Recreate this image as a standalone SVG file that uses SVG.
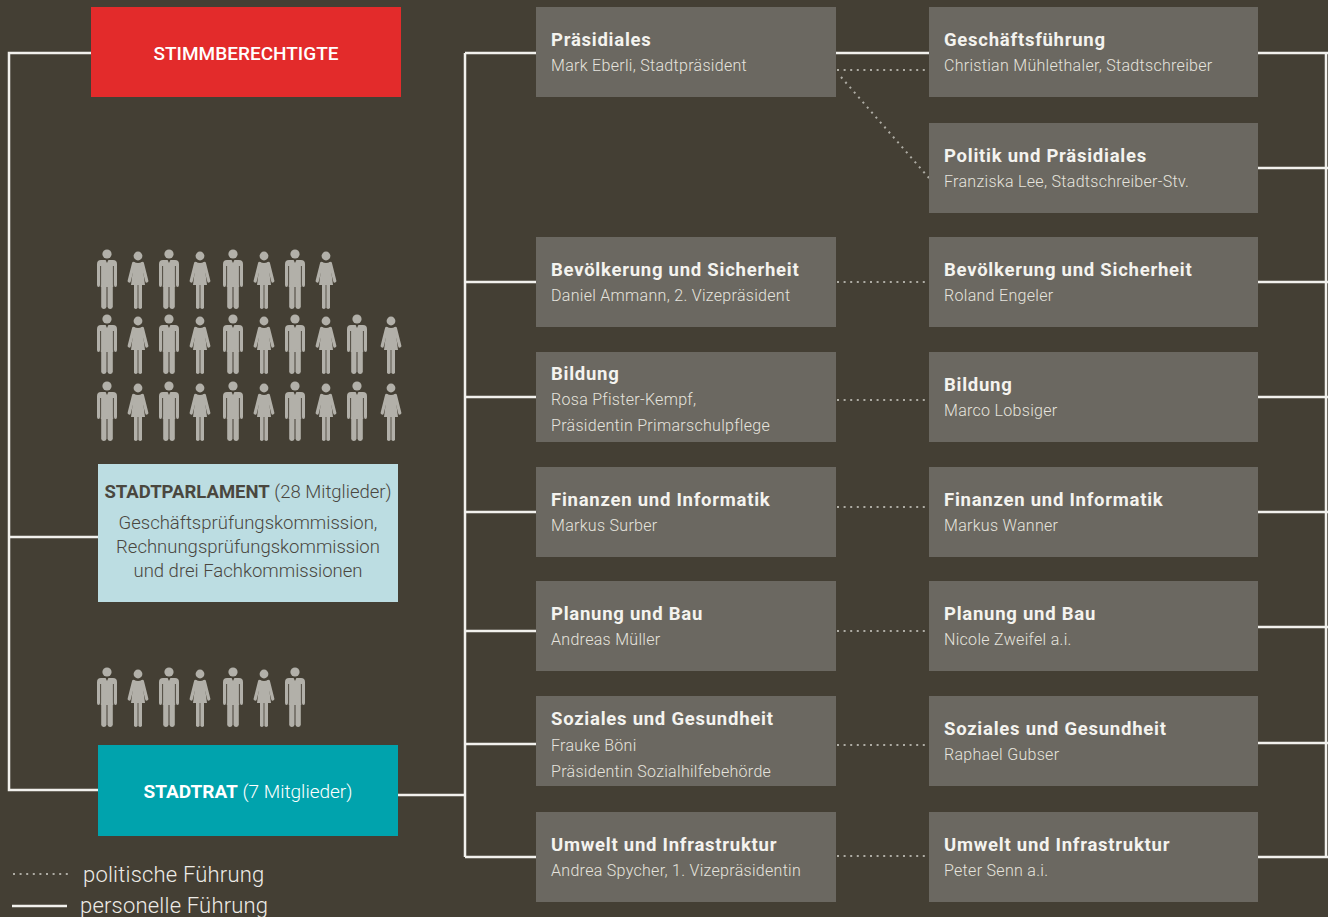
<svg xmlns="http://www.w3.org/2000/svg" width="1328" height="917" viewBox="0 0 1328 917">
<style>
.bg{fill:#443f34}
.box{fill:#6b6861}
.t{font-family:Roboto,"Liberation Sans",sans-serif;font-weight:700;font-size:18.5px;fill:#f4f3ef;letter-spacing:0.75px}
.s{font-family:Roboto,"Liberation Sans",sans-serif;font-weight:300;font-size:16px;fill:#e6e4de;letter-spacing:0.3px}
.solid{stroke:#f2f1ed;stroke-width:2.5;fill:none}
.dot{stroke:#aeaca4;stroke-width:2;fill:none;stroke-dasharray:2 4.6}
.ic{fill:#b2b0a9}
.leg{font-family:Roboto,"Liberation Sans",sans-serif;font-weight:300;font-size:22px;fill:#eeece7;letter-spacing:0.2px}
</style>
<defs>
<symbol id="man" viewBox="0 0 24 60" width="24" height="60">
<circle class="ic" cx="12" cy="5" r="4.6"/>
<path class="ic" d="M2,36 L2,15 Q2,11 6,11 L18,11 Q22,11 22,15 L22,36 Q22,38 20.5,38 Q19,38 19,36 L19,38 L5,38 L5,36 Q5,38 3.5,38 Q2,38 2,36 Z"/>
<line x1="5.6" y1="17" x2="5.6" y2="38" stroke="#443f34" stroke-width="0.9"/>
<line x1="18.4" y1="17" x2="18.4" y2="38" stroke="#443f34" stroke-width="0.9"/>
<path d="M10.6,11 L13.4,11 L12,14 Z" fill="#443f34"/>
<rect class="ic" x="6.2" y="35" width="5.3" height="25" rx="2.4"/>
<rect class="ic" x="12.5" y="35" width="5.3" height="25" rx="2.4"/>
</symbol>
<symbol id="woman" viewBox="0 0 24 60" width="24" height="60">
<circle class="ic" cx="12" cy="7" r="4.4"/>
<path class="ic" d="M8,13 Q12,15 16,13 L19,36 L5,36 Z"/>
<line x1="7.6" y1="14.5" x2="3.2" y2="32" stroke="#b2b0a9" stroke-width="3.2" stroke-linecap="round"/>
<line x1="16.4" y1="14.5" x2="20.8" y2="32" stroke="#b2b0a9" stroke-width="3.2" stroke-linecap="round"/>
<rect class="ic" x="8" y="34" width="3.6" height="26" rx="1.8"/>
<rect class="ic" x="12.4" y="34" width="3.6" height="26" rx="1.8"/>
</symbol>
</defs>
<rect class="bg" x="0" y="0" width="1328" height="917"/>

<g id="connectors">
<polyline class="solid" points="91,53 9,53 9,790 98,790"/>
<line class="solid" x1="9" y1="537" x2="98" y2="537"/>
<line class="solid" x1="398" y1="795" x2="465" y2="795"/>
<line class="solid" x1="465" y1="53" x2="465" y2="857"/>
<line class="solid" x1="465" y1="53" x2="536" y2="53"/>
<line class="solid" x1="465" y1="282" x2="536" y2="282"/>
<line class="solid" x1="465" y1="397" x2="536" y2="397"/>
<line class="solid" x1="465" y1="512" x2="536" y2="512"/>
<line class="solid" x1="465" y1="631" x2="536" y2="631"/>
<line class="solid" x1="465" y1="744" x2="536" y2="744"/>
<line class="solid" x1="465" y1="857" x2="536" y2="857"/>
<line class="solid" x1="836" y1="53" x2="929" y2="53"/>
<line class="solid" x1="1326" y1="53" x2="1326" y2="857"/>
<line class="solid" x1="1258" y1="53" x2="1328" y2="53"/>
<line class="solid" x1="1258" y1="168" x2="1328" y2="168"/>
<line class="solid" x1="1258" y1="282" x2="1328" y2="282"/>
<line class="solid" x1="1258" y1="397" x2="1328" y2="397"/>
<line class="solid" x1="1258" y1="512" x2="1328" y2="512"/>
<line class="solid" x1="1258" y1="627" x2="1328" y2="627"/>
<line class="solid" x1="1258" y1="743" x2="1328" y2="743"/>
<line class="solid" x1="1258" y1="857" x2="1328" y2="857"/>
<line class="dot" x1="837" y1="70" x2="929" y2="70"/>
<line class="dot" x1="841" y1="77" x2="929" y2="178"/>
<line class="dot" x1="837" y1="282" x2="929" y2="282"/>
<line class="dot" x1="837" y1="400" x2="929" y2="400"/>
<line class="dot" x1="837" y1="507" x2="929" y2="507"/>
<line class="dot" x1="837" y1="631" x2="929" y2="631"/>
<line class="dot" x1="837" y1="745" x2="929" y2="745"/>
<line class="dot" x1="837" y1="856" x2="929" y2="856"/>
</g>

<g id="stimmberechtigte">
<rect x="91" y="7" width="310" height="90" fill="#e32b2b"/>
<text x="246" y="60" text-anchor="middle" font-family="Roboto,'Liberation Sans',sans-serif" font-weight="500" font-size="19" fill="#ffffff">STIMMBERECHTIGTE</text>
</g>

<g id="parlament-icons">
<use href="#man" x="95" y="249"/><use href="#woman" x="126" y="249"/><use href="#man" x="157" y="249"/><use href="#woman" x="188" y="249"/><use href="#man" x="221" y="249"/><use href="#woman" x="252" y="249"/><use href="#man" x="283" y="249"/><use href="#woman" x="314" y="249"/>
<use href="#man" x="95" y="314"/><use href="#woman" x="126" y="314"/><use href="#man" x="157" y="314"/><use href="#woman" x="188" y="314"/><use href="#man" x="221" y="314"/><use href="#woman" x="252" y="314"/><use href="#man" x="283" y="314"/><use href="#woman" x="314" y="314"/><use href="#man" x="345" y="314"/><use href="#woman" x="379" y="314"/>
<use href="#man" x="95" y="381"/><use href="#woman" x="126" y="381"/><use href="#man" x="157" y="381"/><use href="#woman" x="188" y="381"/><use href="#man" x="221" y="381"/><use href="#woman" x="252" y="381"/><use href="#man" x="283" y="381"/><use href="#woman" x="314" y="381"/><use href="#man" x="345" y="381"/><use href="#woman" x="379" y="381"/>
</g>

<g id="stadtparlament">
<rect x="98" y="464" width="300" height="138" fill="#bcdde2"/>
<text x="248" y="498" text-anchor="middle" font-family="Roboto,'Liberation Sans',sans-serif" font-size="18.5" fill="#4a473f"><tspan font-weight="700">STADTPARLAMENT</tspan><tspan font-weight="300"> (28 Mitglieder)</tspan></text>
<text text-anchor="middle" font-family="Roboto,'Liberation Sans',sans-serif" font-weight="300" font-size="18.5" fill="#4a473f"><tspan x="248" y="529">Geschäftsprüfungskommission,</tspan><tspan x="248" y="553">Rechnungsprüfungskommission</tspan><tspan x="248" y="577">und drei Fachkommissionen</tspan></text>
</g>

<g id="stadtrat-icons">
<use href="#man" x="95" y="667"/><use href="#woman" x="126" y="667"/><use href="#man" x="157" y="667"/><use href="#woman" x="188" y="667"/><use href="#man" x="221" y="667"/><use href="#woman" x="252" y="667"/><use href="#man" x="283" y="667"/>
</g>

<g id="stadtrat">
<rect x="98" y="745" width="300" height="91" fill="#00a3ad"/>
<text x="248" y="798" text-anchor="middle" font-family="Roboto,'Liberation Sans',sans-serif" font-size="19" fill="#ffffff"><tspan font-weight="700">STADTRAT</tspan><tspan font-weight="300"> (7 Mitglieder)</tspan></text>
</g>

<g id="m-praesidiales"><rect class="box" x="536" y="7" width="300" height="90"/><text class="t" x="551" y="46">Präsidiales</text><text class="s" x="551" y="71">Mark Eberli, Stadtpräsident</text></g>
<g id="m-bevoelkerung"><rect class="box" x="536" y="237" width="300" height="90"/><text class="t" x="551" y="276">Bevölkerung und Sicherheit</text><text class="s" x="551" y="301">Daniel Ammann, 2. Vizepräsident</text></g>
<g id="m-bildung"><rect class="box" x="536" y="352" width="300" height="90"/><text class="t" x="551" y="380">Bildung</text><text class="s" x="551" y="405">Rosa Pfister-Kempf,</text><text class="s" x="551" y="431">Präsidentin Primarschulpflege</text></g>
<g id="m-finanzen"><rect class="box" x="536" y="467" width="300" height="90"/><text class="t" x="551" y="506">Finanzen und Informatik</text><text class="s" x="551" y="531">Markus Surber</text></g>
<g id="m-planung"><rect class="box" x="536" y="581" width="300" height="90"/><text class="t" x="551" y="620">Planung und Bau</text><text class="s" x="551" y="645">Andreas Müller</text></g>
<g id="m-soziales"><rect class="box" x="536" y="696" width="300" height="90"/><text class="t" x="551" y="725">Soziales und Gesundheit</text><text class="s" x="551" y="751">Frauke Böni</text><text class="s" x="551" y="777">Präsidentin Sozialhilfebehörde</text></g>
<g id="m-umwelt"><rect class="box" x="536" y="812" width="300" height="90"/><text class="t" x="551" y="851">Umwelt und Infrastruktur</text><text class="s" x="551" y="876">Andrea Spycher, 1. Vizepräsidentin</text></g>

<g id="r-geschaeftsfuehrung"><rect class="box" x="929" y="7" width="329" height="90"/><text class="t" x="944" y="46">Geschäftsführung</text><text class="s" x="944" y="71">Christian Mühlethaler, Stadtschreiber</text></g>
<g id="r-politik"><rect class="box" x="929" y="123" width="329" height="90"/><text class="t" x="944" y="162">Politik und Präsidiales</text><text class="s" x="944" y="187">Franziska Lee, Stadtschreiber-Stv.</text></g>
<g id="r-bevoelkerung"><rect class="box" x="929" y="237" width="329" height="90"/><text class="t" x="944" y="276">Bevölkerung und Sicherheit</text><text class="s" x="944" y="301">Roland Engeler</text></g>
<g id="r-bildung"><rect class="box" x="929" y="352" width="329" height="90"/><text class="t" x="944" y="391">Bildung</text><text class="s" x="944" y="416">Marco Lobsiger</text></g>
<g id="r-finanzen"><rect class="box" x="929" y="467" width="329" height="90"/><text class="t" x="944" y="506">Finanzen und Informatik</text><text class="s" x="944" y="531">Markus Wanner</text></g>
<g id="r-planung"><rect class="box" x="929" y="581" width="329" height="90"/><text class="t" x="944" y="620">Planung und Bau</text><text class="s" x="944" y="645">Nicole Zweifel a.i.</text></g>
<g id="r-soziales"><rect class="box" x="929" y="696" width="329" height="90"/><text class="t" x="944" y="735">Soziales und Gesundheit</text><text class="s" x="944" y="760">Raphael Gubser</text></g>
<g id="r-umwelt"><rect class="box" x="929" y="812" width="329" height="90"/><text class="t" x="944" y="851">Umwelt und Infrastruktur</text><text class="s" x="944" y="876">Peter Senn a.i.</text></g>

<g id="legend">
<line class="dot" x1="13" y1="874" x2="71" y2="874"/>
<text class="leg" x="83" y="882">politische Führung</text>
<line class="solid" x1="12" y1="906" x2="67" y2="906"/>
<text class="leg" x="80" y="913">personelle Führung</text>
</g>
</svg>
